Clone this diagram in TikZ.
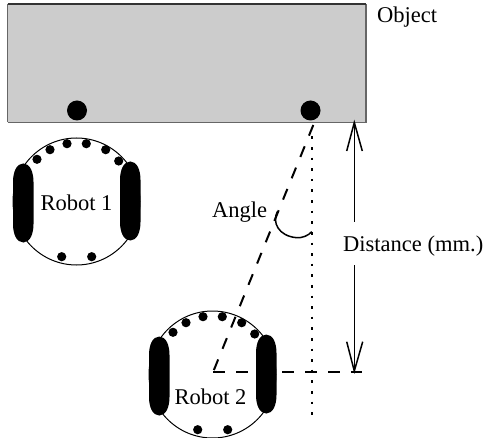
\documentclass[tikz,border=0pt]{standalone}
\usepackage{fontspec}
\setmainfont{Liberation Serif}
\tikzset{
  x=1bp,y=-1bp,
  label text/.style={inner sep=0pt,font=\fontsize{22.6}{26}\selectfont},
  big dot/.style={circle,fill=black,inner sep=0pt,minimum size=20bp},
  small dot/.style={fill=black},
  rim/.style={draw=black,line width=1bp},
  dash line/.style={line width=2bp,dash pattern=on 11.5bp off 11.5bp},
  dot line/.style={line width=2.3bp,dash pattern=on 2.6bp off 8bp},
  measure/.style={line width=1.5bp},
  robot/.pic={
    \draw[rim] (76.5,201.5) circle[radius=63.5];
    \fill[black] (23.25,163.5) .. controls (30,163.5) and (33.5,172) .. (33.5,182) -- (33.5,224) .. controls (33.5,234) and (30,242.5) .. (23.25,242.5) .. controls (16.5,242.5) and (13,234) .. (13,224) -- (13,182) .. controls (13,172) and (16.5,163.5) .. (23.25,163.5) -- cycle;
    \fill[black] (130.25,161.5) .. controls (137,161.5) and (140.5,170) .. (140.5,180) -- (140.5,222) .. controls (140.5,232) and (137,240.5) .. (130.25,240.5) .. controls (123.5,240.5) and (120,232) .. (120,222) -- (120,180) .. controls (120,170) and (123.5,161.5) .. (130.25,161.5) -- cycle;
    \foreach \p in {(37,159.3),(50,149.7),(67,143.7),(86.3,143.7),(105.7,149.7),(118.7,161),(61.7,256.7),(91.7,256.7)}
      \fill[small dot] \p circle[radius=4.6];
  }
}
\begin{document}
\begin{tikzpicture}
\useasboundingbox (0,0) rectangle (486,438);
% object
\fill[black!20] (7.5,4) rectangle (366,122.5);
\draw[draw=black!60,line width=1.3bp] (7.5,122.5) -- (7.5,4);
\draw[draw=black!60,line width=1.3bp] (366,4) -- (366,122.5) -- (7.5,122.5);
\draw[draw=black!80,line width=1.2bp] (7.5,4) -- (366,4);
\node[big dot] (s1) at (77,110.5) {};
\node[big dot] (s2) at (310.5,110.5) {};
\node[label text,anchor=base west] (object) at (377,22.7) {Object};
% reference lines
\coordinate (sensor) at (313.3,125);
\coordinate (centre) at (213.3,371.5);
\coordinate (right) at (362,371.5);
\coordinate (dottop) at (312.3,136.5);
\coordinate (dotend) at (312.3,415);
\draw[dash line] (sensor) -- (centre);
\draw[dash line] (centre) -- (right);
\draw[dot line] (dottop) -- (dotend);
% robots
\pic at (0,0) {robot};
\pic at (136,173) {robot};
\node[label text,anchor=base] (r1) at (76.5,210.7) {Robot 1};
\node[label text,anchor=base] (r2) at (210.5,404) {Robot 2};
% angle
\node[label text,anchor=base west] (angle) at (212,218) {Angle};
\coordinate (a1) at (277.3,211.7);
\coordinate (a2) at (311.7,231.7);
\draw[line width=1.5bp] (a1) .. controls (272,222) and (278,236) .. (296.7,237.7) .. controls (302,238) and (308,236) .. (a2);
% distance
\node[label text,anchor=base west] (dist) at (343,251.7) {Distance (mm.)};
\coordinate (dtop) at (354.3,122.5);
\coordinate (dbot) at (354.3,371);
\coordinate (d1) at (354.3,222);
\coordinate (d2) at (354.3,265);
\coordinate (bt1) at (346.7,151);
\coordinate (bt2) at (362.3,151);
\coordinate (bb1) at (346.7,341.7);
\coordinate (bb2) at (362.7,341.7);
\draw[measure] (dtop) -- (d1);
\draw[measure] (d2) -- (dbot);
\draw[measure,line join=miter] (bt1) -- (dtop) -- (bt2);
\draw[measure,line join=miter] (bb1) -- (dbot) -- (bb2);
\end{tikzpicture}
\end{document}
